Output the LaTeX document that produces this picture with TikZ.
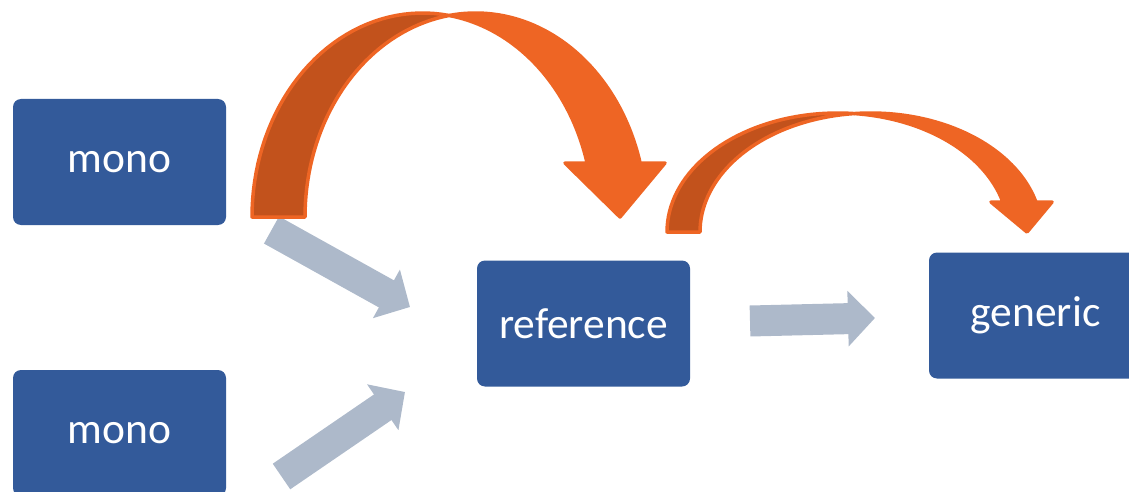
\documentclass[tikz,border=0pt]{standalone}
\usepackage{fontspec}
\setmainfont{Carlito}
\usetikzlibrary{arrows.meta, positioning}

\definecolor{boxblue}{HTML}{335A9A}
\definecolor{flowgray}{HTML}{ADB9CA}
\definecolor{arcorange}{HTML}{EE6524}
\definecolor{arcdark}{HTML}{C2521C}

\begin{document}
\begin{tikzpicture}[x=1pt, y=-1pt, line join=round, line cap=round]
   % Styles
   \tikzset{
    box/.style={rectangle, rounded corners=8pt, fill=boxblue, text=white, inner sep=0pt,
      minimum width=213pt, minimum height=126pt, font=\fontsize{43.5}{50}\selectfont},
    flow/.style={flowgray, line width=31pt, line cap=butt, -{Triangle[length=27pt, width=54pt]}},
    backface/.style={fill=arcdark, draw=arcorange, line width=3.5pt},
    frontface/.style={fill=arcorange, draw=arcorange, line width=3.5pt}
   }
  \clip (0,0) rectangle (1129,492);
  % Nodes
  \node[box] (monoa) at (119.5,162) {mono};
  \node[box] (monob) at (119.5,433) {mono};
  \node[box] (ref)   at (583.5,323.5) {reference};
  \node[box] (gen)   at (1035.5,315.5) {generic};
  % Arrow ends
  \coordinate (fromA) at (271.5,230);
  \coordinate (toA)   at (410,307);
  \coordinate (fromB) at (281.5,476.5);
  \coordinate (toB)   at (405,392);
  \coordinate (fromR) at (750,321);
  \coordinate (toR)   at (875,318);
  % Block arrows
  \draw[flow] (fromA) -- (toA);
  \draw[flow] (fromB) -- (toB);
  \draw[flow] (fromR) -- (toR);
  % Curved arrow mono -> reference
  \draw[backface] plot[domain=180:278.94, samples=40] ({422.6+170.6*cos(\x)},{217+204*sin(\x)})
    -- plot[domain=261.06:180, samples=40] ({475.6+170.6*cos(\x)},{217+204*sin(\x)}) -- cycle;
  \draw[frontface] plot[domain=261.06:344.65, samples=50] ({475.6+170.6*cos(\x)},{217+204*sin(\x)})
    -- (665,163) -- (620,217) -- (565,163)
    -- plot[domain=344.65:278.94, samples=40] ({422.6+170.6*cos(\x)},{217+204*sin(\x)}) -- cycle;
  % Curved arrow reference -> generic
  \draw[backface] plot[domain=180:275.55, samples=40] ({837.7+170.7*cos(\x)},{232+119*sin(\x)})
    -- plot[domain=264.45:180, samples=40] ({870.7+170.7*cos(\x)},{232+119*sin(\x)}) -- cycle;
  \draw[frontface] plot[domain=264.45:345.4, samples=50] ({870.7+170.7*cos(\x)},{232+119*sin(\x)})
    -- (1052,202) -- (1027,232) -- (991,202)
    -- plot[domain=345.4:275.55, samples=40] ({837.7+170.7*cos(\x)},{232+119*sin(\x)}) -- cycle;
\end{tikzpicture}
\end{document}
